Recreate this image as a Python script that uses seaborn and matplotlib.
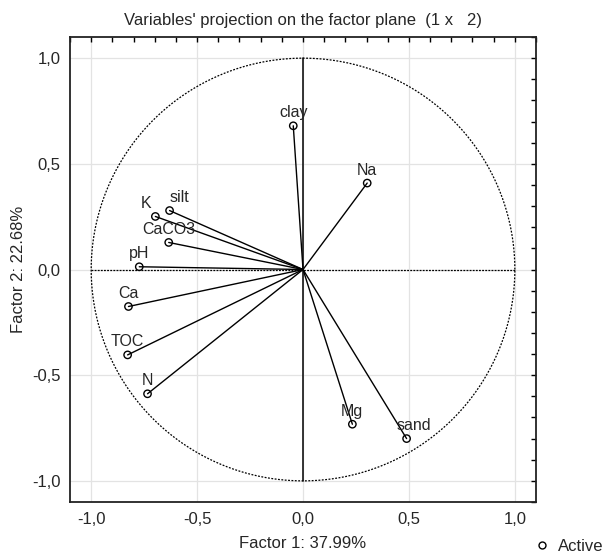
import numpy as np
import pandas as pd
import matplotlib
matplotlib.use("Agg")
import matplotlib.pyplot as plt
from matplotlib.ticker import MultipleLocator, FuncFormatter
from matplotlib.lines import Line2D
import seaborn as sns

# Variable loadings on factors 1 and 2
variables = ["clay", "Na", "silt", "K", "CaCO3", "pH", "Ca", "TOC", "N", "Mg", "sand"]
factor1 = [-0.046, 0.303, -0.630, -0.697, -0.634, -0.773, -0.824, -0.828, -0.734, 0.233, 0.489]
factor2 = [0.680, 0.409, 0.279, 0.251, 0.128, 0.013, -0.175, -0.404, -0.588, -0.732, -0.800]

title = "Variables' projection on the factor plane  (1 x   2)"
xlabel = "Factor 1: 37.99%"
ylabel = "Factor 2: 22.68%"

df = pd.DataFrame({"variable": variables, "f1": factor1, "f2": factor2})

sns.set_style("white")
plt.rcParams["font.family"] = ["Liberation Sans", "DejaVu Sans"]
plt.rcParams["font.size"] = 12

fig = plt.figure(figsize=(6.05, 5.55), dpi=100)
ax = fig.add_axes([0.1157, 0.0955, 0.7703, 0.8378])

# grid at the major ticks
ax.set_axisbelow(True)
ax.grid(True, which="major", color="#e3e3e3", lw=0.9)

# unit circle
t = np.linspace(0, 2 * np.pi, 400)
ax.plot(np.cos(t), np.sin(t), color="black", lw=0.9, ls=(0, (1.5, 1.2)))

# axis lines through the origin
ax.plot([-1, 1], [0, 0], color="black", lw=0.9, ls=(0, (1.5, 1.0)))
ax.plot([0, 0], [-1, 1], color="black", lw=1.1)

# vectors from origin
for _, r in df.iterrows():
    ax.plot([0, r.f1], [0, r.f2], color="black", lw=1.0)

sns.scatterplot(data=df, x="f1", y="f2", ax=ax, marker="o", s=28,
                facecolor="none", edgecolor="black", linewidth=1.0, zorder=3)

# label offsets (points), default centred above the marker
offsets = {"silt": (7, 4), "K": (-7, 4), "sand": (5, 4)}
for _, r in df.iterrows():
    dx, dy = offsets.get(r.variable, (0, 4))
    ax.annotate(r.variable, (r.f1, r.f2), xytext=(dx, dy), textcoords="offset points",
                ha="center", va="bottom", fontsize=11.5)

ax.set_xlim(-1.1, 1.1)
ax.set_ylim(-1.1, 1.1)
for a in (ax.xaxis, ax.yaxis):
    a.set_major_locator(MultipleLocator(0.5))
    a.set_minor_locator(MultipleLocator(0.1))
    a.set_major_formatter(FuncFormatter(lambda v, p: f"{v:.1f}".replace(".", ",")))
ax.tick_params(which="both", direction="in", top=True, right=True,
               length=3.5, width=1.0, color="black", labelsize=12, pad=7)

for s in ax.spines.values():
    s.set_visible(True)
    s.set_color("#222222")
    s.set_linewidth(1.3)

ax.set_title(title, fontsize=12, pad=9)
ax.set_xlabel(xlabel, fontsize=12, labelpad=7)
ax.set_ylabel(ylabel, fontsize=12, labelpad=4)

handle = Line2D([], [], ls="none", marker="o", markersize=5, markerfacecolor="none",
                markeredgecolor="black", markeredgewidth=1.0)
fig.legend([handle], ["Active"], loc="center right", bbox_to_anchor=(1.012, 0.016),
           frameon=False, fontsize=12, handletextpad=0.5, handlelength=1.0,
           borderaxespad=0.1)

fig.savefig("out.png", dpi=100)
